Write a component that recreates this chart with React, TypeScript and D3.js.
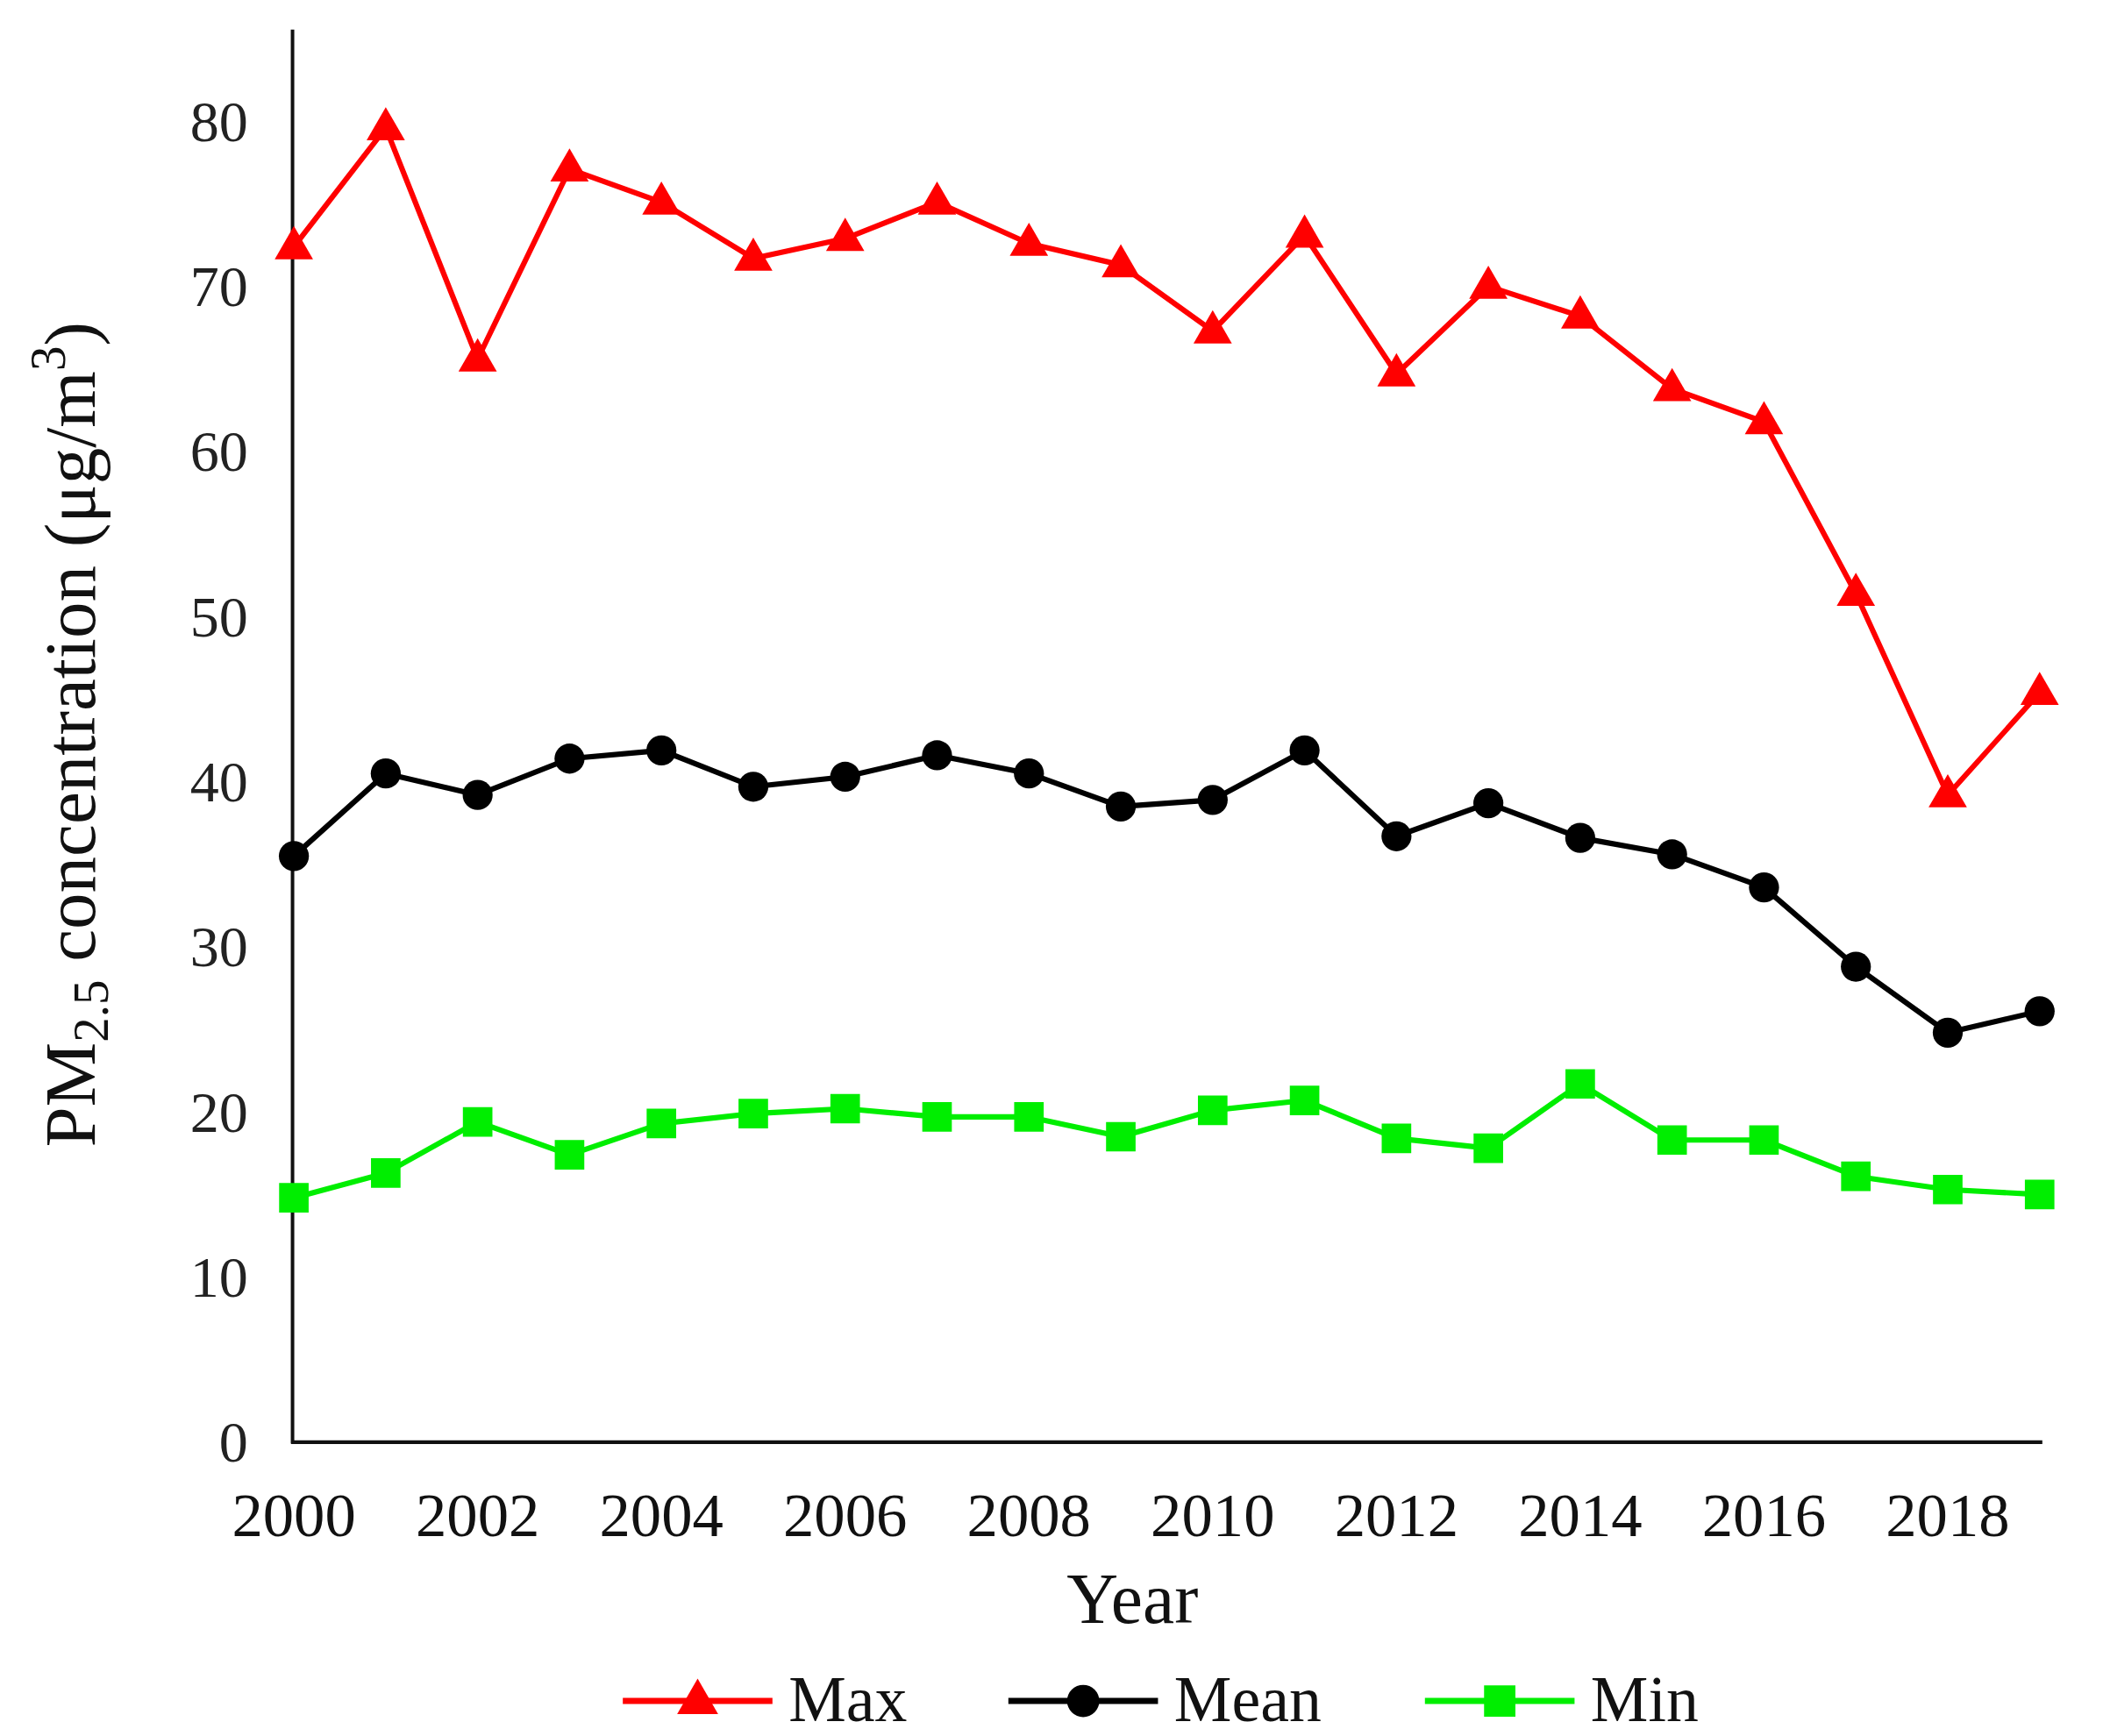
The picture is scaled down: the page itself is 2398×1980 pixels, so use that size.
import React from "react";
import * as d3 from "d3";

const years = [2000, 2001, 2002, 2003, 2004, 2005, 2006, 2007, 2008, 2009, 2010, 2011, 2012, 2013, 2014, 2015, 2016, 2017, 2018, 2019];
const maxValues = [72.4, 79.6, 65.6, 77.1, 75.1, 71.7, 72.9, 75.1, 72.6, 71.3, 67.3, 73.1, 64.7, 70.0, 68.2, 63.8, 61.8, 51.4, 39.2, 45.4];
const meanValues = [35.5, 40.5, 39.2, 41.4, 41.9, 39.7, 40.3, 41.6, 40.5, 38.5, 38.9, 41.9, 36.7, 38.7, 36.6, 35.6, 33.6, 28.8, 24.8, 26.1];
const minValues = [14.8, 16.3, 19.4, 17.4, 19.3, 19.9, 20.2, 19.7, 19.7, 18.5, 20.1, 20.7, 18.4, 17.8, 21.7, 18.3, 18.3, 16.1, 15.3, 15.0];
const yTicks = [0, 10, 20, 30, 40, 50, 60, 70, 80];
const xTicks = [2000, 2002, 2004, 2006, 2008, 2010, 2012, 2014, 2016, 2018];
const seriesNames = ["Max", "Mean", "Min"];
const seriesColors = ["#ff0000", "#000000", "#00ee00"];

const W = 1560;
const H = 1288;
const FONT = "'Liberation Serif', 'Times New Roman', serif";

export default function App() {
  const x = d3.scaleLinear().domain([2000, 2019]).range([218, 1513]);
  const y = d3.scaleLinear().domain([0, 80]).range([1070, 90]);
  const line = d3.line<number>().x((_, i) => x(years[i])).y((v) => y(v));
  const series = [maxValues, meanValues, minValues];
  const symbols = [d3.symbolTriangle, d3.symbolCircle, d3.symbolSquare];
  const sizes = [350, 390, 480];
  const legendSizes = [400, 450, 540];
  const legendX = [462, 748, 1057];
  const legendY = 1262;

  return (
    <svg
      width={2398}
      height={1980}
      viewBox={`0 0 ${W} ${H}`}
      preserveAspectRatio="none"
      style={{ position: "absolute", left: 0, top: 0, background: "#fff" }}
    >
      <rect x={0} y={0} width={W} height={H} fill="#fff" />
      {/* axes */}
      <line x1={217} y1={22} x2={217} y2={1071} stroke="#111" strokeWidth={2.6} />
      <line x1={216} y1={1070} x2={1515} y2={1070} stroke="#111" strokeWidth={2.8} />
      {yTicks.map((t) => (
        <text key={t} x={184} y={y(t)} dy="0.34em" textAnchor="end" fontFamily={FONT} fontSize={43} fill="#222">
          {t}
        </text>
      ))}
      {xTicks.map((t) => (
        <text key={t} x={x(t)} y={1140} textAnchor="middle" fontFamily={FONT} fontSize={46} fill="#111">
          {t}
        </text>
      ))}
      <text x={840} y={1204} textAnchor="middle" fontFamily={FONT} fontSize={53} fill="#111">
        Year
      </text>
      <text
        transform="translate(70,545) rotate(-90)"
        textAnchor="middle"
        fontFamily={FONT}
        fontSize={54}
        fill="#111"
      >
        PM
        <tspan fontSize={37} dy={10}>2.5</tspan>
        <tspan dy={-10}> concentration (μg/m</tspan>
        <tspan fontSize={37} dy={-22}>3</tspan>
        <tspan dy={22}>)</tspan>
      </text>
      {series.map((vals, si) => (
        <g key={seriesNames[si]}>
          <path d={line(vals) || ""} fill="none" stroke={seriesColors[si]} strokeWidth={4} strokeLinejoin="round" />
          {vals.map((v, i) => (
            <path
              key={i}
              transform={`translate(${x(years[i])},${y(v) + (si === 0 ? 1 : 0)})`}
              d={d3.symbol().type(symbols[si]).size(sizes[si])() || ""}
              fill={seriesColors[si]}
            />
          ))}
        </g>
      ))}
      {/* legend */}
      {seriesNames.map((name, si) => (
        <g key={name}>
          <line x1={legendX[si]} y1={legendY} x2={legendX[si] + 111} y2={legendY} stroke={seriesColors[si]} strokeWidth={4.5} />
          <path
            transform={`translate(${legendX[si] + 55.5},${legendY + (si === 0 ? 1 : 0)})`}
            d={d3.symbol().type(symbols[si]).size(legendSizes[si])() || ""}
            fill={seriesColors[si]}
          />
          <text x={legendX[si] + 123} y={legendY + 15} fontFamily={FONT} fontSize={48} fill="#111">
            {name}
          </text>
        </g>
      ))}
    </svg>
  );
}
